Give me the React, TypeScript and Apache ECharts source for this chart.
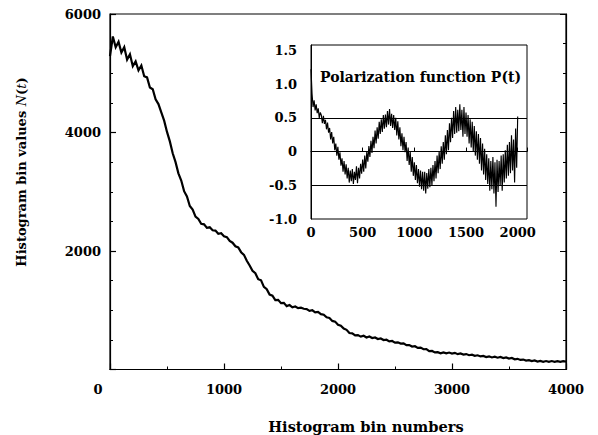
import React, { useEffect, useRef } from 'react';
import * as echarts from 'echarts';

// Main histogram: bin values N(t), one reading every 25 bins (0..4000)
const MAIN_STEP = 25;
const mainCounts = [
  5290, 5620, 5440, 5530, 5350, 5440, 5230, 5320, 5120, 5200,
  5050, 5130, 4950, 4930, 4760, 4730, 4560, 4480, 4340, 4200,
  4010, 3850, 3650, 3500, 3310, 3190, 3010, 2920, 2760, 2700,
  2580, 2540, 2460, 2450, 2390, 2400, 2350, 2345, 2290, 2300,
  2250, 2235, 2170, 2140, 2080, 2060, 1980, 1935, 1835, 1755,
  1665, 1625, 1525, 1505, 1395, 1355, 1265, 1245, 1170, 1175,
  1120, 1125, 1070, 1088, 1050, 1063, 1035, 1043, 1025, 1020,
  990, 1000, 965, 972, 935, 925, 880, 870, 820, 808,
  755, 740, 690, 670, 615, 610, 575, 580, 555, 570,
  541, 557, 531, 541, 514, 524, 497, 503, 474, 481,
  454, 459, 438, 441, 410, 413, 388, 393, 364, 369,
  342, 343, 310, 313, 288, 293, 273, 289, 272, 286,
  270, 281, 259, 270, 251, 260, 241, 250, 231, 240,
  221, 230, 211, 222, 203, 215, 199, 211, 193, 204,
  185, 194, 173, 180, 161, 168, 151, 158, 142, 152,
  134, 145, 131, 143, 130, 143, 129, 142, 128, 141,
  134,
];

// Inset: polarization function P(t), one reading every 10 bins (0..2000)
const INSET_STEP = 10;
const polarization = [
  1.22, 0.86, 0.66, 0.76, 0.61, 0.70, 0.57, 0.64, 0.50, 0.58,
  0.54, 0.42, 0.53, 0.41, 0.47, 0.33, 0.43, 0.28, 0.35, 0.18,
  0.29, 0.12, 0.22, 0.02, 0.12, -0.06, 0.07, -0.12, -0.01, -0.21,
  -0.10, -0.30, -0.14, -0.34, -0.19, -0.40, -0.24, -0.46, -0.28, -0.44,
  -0.26, -0.48, -0.30, -0.42, -0.22, -0.47, -0.24, -0.40, -0.18, -0.33,
  -0.12, -0.30, -0.06, -0.25, 0.00, -0.15, 0.08, -0.08, 0.16, -0.02,
  0.22, 0.05, 0.31, 0.12, 0.36, 0.19, 0.44, 0.26, 0.48, 0.29,
  0.54, 0.34, 0.55, 0.36, 0.60, 0.40, 0.63, 0.38, 0.56, 0.35,
  0.54, 0.32, 0.50, 0.24, 0.45, 0.18, 0.36, 0.08, 0.27, 0.02,
  0.22, -0.01, 0.14, -0.14, 0.06, -0.20, 0.00, -0.30, -0.08, -0.36,
  -0.16, -0.42, -0.20, -0.47, -0.26, -0.52, -0.28, -0.56, -0.30, -0.58,
  -0.30, -0.62, -0.32, -0.55, -0.26, -0.53, -0.24, -0.50, -0.20, -0.44,
  -0.14, -0.40, -0.06, -0.32, 0.00, -0.26, 0.08, -0.18, 0.14, -0.12,
  0.24, -0.04, 0.32, 0.02, 0.42, 0.14, 0.50, 0.20, 0.60, 0.26,
  0.66, 0.28, 0.62, 0.30, 0.70, 0.32, 0.62, 0.22, 0.66, 0.26,
  0.58, 0.22, 0.54, 0.12, 0.48, 0.06, 0.44, 0.00, 0.38, -0.06,
  0.30, -0.12, 0.26, -0.18, 0.20, -0.28, 0.12, -0.34, 0.04, -0.42,
  -0.04, -0.48, -0.10, -0.58, -0.14, -0.56, -0.08, -0.62, -0.16, -0.82,
  -0.12, -0.60, -0.14, -0.50, -0.06, -0.58, -0.04, -0.46, 0.02, -0.40,
  0.10, -0.36, 0.14, -0.32, 0.24, -0.28, 0.18, -0.46, 0.34, -0.24,
  0.52,
];

const mainXTicks = [0, 1000, 2000, 3000, 4000];
const mainYTicks = [2000, 4000, 6000];
const insetXTicks = [0, 500, 1000, 1500, 2000];
const insetYTicks = [-1.0, -0.5, 0, 0.5, 1.0, 1.5];
const insetGridLines = [0.5, 0, -0.5];

const xName = 'Histogram bin numbers';
const yName = 'Histogram bin values ';
const insetTitle = 'Polarization function P(t)';

export default function App() {
  const ref = useRef<HTMLDivElement>(null);
  useEffect(() => {
    document.body.style.margin = '0';
    const chart = echarts.init(ref.current!, null, { renderer: 'svg' });
    const font = 'DejaVu Serif';
    const black = '#000';
    const tickLabel = {
      color: black,
      fontFamily: font,
      fontWeight: 'bold' as const,
      fontSize: 13,
    };
    const near = (list: number[], v: number) => list.some((t) => Math.abs(t - v) < 1e-6);

    const option: any = {
      animation: false,
      backgroundColor: '#fff',
      grid: [
        { left: 110, top: 14, width: 456, height: 355.5, show: true, borderColor: black, borderWidth: 1.2, backgroundColor: 'transparent' },
        { left: 311, top: 45, width: 216, height: 174, show: true, borderColor: black, borderWidth: 1, backgroundColor: '#fff' },
      ],
      xAxis: [
        {
          gridIndex: 0, type: 'value', min: 0, max: 4000, interval: 1000,
          axisLine: { lineStyle: { color: black, width: 1.2 } },
          axisTick: { inside: true, length: 6, lineStyle: { color: black, width: 1.2 } },
          minorTick: { show: true, splitNumber: 2, length: 3, lineStyle: { color: black } },
          splitLine: { show: false },
          axisLabel: {
            ...tickLabel, margin: 13,
            formatter: (v: number) => (v === 0 ? '{z|0}' : near(mainXTicks, v) ? String(v) : ''),
            rich: { z: { ...tickLabel, padding: [0, 24, 0, 0] } },
          },
        },
        {
          gridIndex: 1, type: 'value', min: 0, max: 2090, interval: 500,
          axisLine: { lineStyle: { color: black, width: 1 } },
          axisTick: { inside: true, length: 4, lineStyle: { color: black } },
          splitLine: { show: false },
          axisLabel: { ...tickLabel, margin: 7, formatter: (v: number) => (near(insetXTicks, v) ? String(v) : '') },
        },
      ],
      yAxis: [
        {
          gridIndex: 0, type: 'value', min: 0, max: 6000, interval: 2000,
          axisLine: { show: true, lineStyle: { color: black, width: 1.2 } },
          axisTick: { show: true, inside: true, length: 6, lineStyle: { color: black, width: 1.2 } },
          minorTick: { show: true, splitNumber: 4, length: 3, lineStyle: { color: black } },
          splitLine: { show: false },
          axisLabel: { ...tickLabel, margin: 9, formatter: (v: number) => (near(mainYTicks, v) ? String(v) : '') },
        },
        {
          gridIndex: 0, type: 'value', position: 'right', min: 0, max: 6000, interval: 2000,
          axisLine: { show: true, lineStyle: { color: black, width: 1.2 } },
          axisTick: { show: true, inside: true, length: 6, lineStyle: { color: black } },
          minorTick: { show: true, splitNumber: 4, length: 3, lineStyle: { color: black } },
          splitLine: { show: false },
          axisLabel: { show: false },
        },
        {
          gridIndex: 1, type: 'value', min: -1, max: 1.58, interval: 0.5,
          axisLine: { show: true, lineStyle: { color: black, width: 1 } },
          axisTick: { show: false },
          splitLine: { show: false },
          axisLabel: {
            ...tickLabel, margin: 14,
            formatter: (v: number) => (near(insetYTicks, v) ? (Math.abs(v) < 1e-9 ? '0' : v.toFixed(1)) : ''),
          },
        },
      ],
      series: [
        {
          type: 'line', xAxisIndex: 0, yAxisIndex: 0, silent: true,
          showSymbol: false, symbol: 'none',
          data: mainCounts.map((v, i) => [i * MAIN_STEP, v]),
          lineStyle: { color: black, width: 2.2, join: 'miter' },
        },
        {
          type: 'line', xAxisIndex: 1, yAxisIndex: 2, silent: true,
          showSymbol: false, symbol: 'none',
          data: polarization.map((v, i) => [i * INSET_STEP, v]),
          lineStyle: { color: black, width: 1.15 },
          markLine: {
            silent: true, symbol: ['none', 'none'], label: { show: false },
            lineStyle: { color: black, type: 'solid', width: 1 },
            data: insetGridLines.map((y) => ({ yAxis: y })),
          },
        },
      ],
      graphic: [
        {
          type: 'text', x: 366, y: 426,
          style: { text: xName, fill: black, font: `bold 14.6px "${font}"`, align: 'center', verticalAlign: 'middle' },
        },
        {
          type: 'text', x: 21, y: 172, rotation: Math.PI / 2,
          style: {
            text: `${yName}{i|N}(${'{i|t}'})`,
            fill: black, font: `bold 13px "${font}"`, align: 'center', verticalAlign: 'middle',
            rich: { i: { fontStyle: 'italic', fontWeight: 'normal', fontFamily: font, fontSize: 13, fill: black } },
          },
        },
        {
          type: 'text', x: 320, y: 77,
          style: { text: insetTitle, fill: black, font: `bold 14px "${font}"`, align: 'left', verticalAlign: 'middle' },
        },
      ],
    };
    chart.setOption(option);
    return () => chart.dispose();
  }, []);
  return <div ref={ref} style={{ width: 598, height: 435 }} />;
}
